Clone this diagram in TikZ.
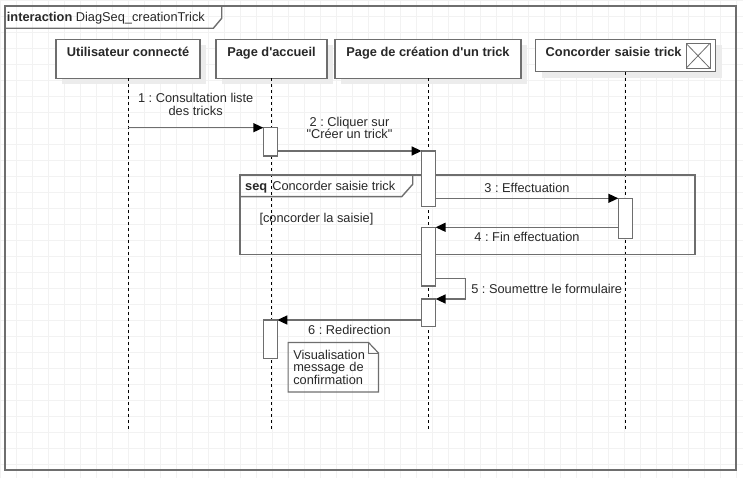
\documentclass[tikz,border=0pt]{standalone}
\usepackage{fontspec}
\setmainfont{Liberation Sans}
\usetikzlibrary{arrows.meta}
\definecolor{linegray}{RGB}{110,110,110}
\definecolor{textgray}{RGB}{40,40,40}
\definecolor{gridgray}{RGB}{242,242,242}
\definecolor{shadowgray}{RGB}{236,236,236}
\newcommand{\diagfont}{\fontsize{12.8}{12.5}\selectfont}
\frenchspacing

\begin{document}
\begin{tikzpicture}[x=1pt,y=-1pt,
  every node/.style={text=textgray, font=\diagfont},
  gridline/.style={draw=gridgray, line width=0.6pt},
  frame/.style={draw=linegray, line width=1.4pt},
  head/.style={draw=linegray, line width=1.3pt, fill=white, font=\diagfont\bfseries,
    minimum height=39pt, text height=10pt, text depth=15pt, inner sep=0pt, outer sep=0pt,
    preaction={draw=none, fill=shadowgray, transform canvas={shift={(6pt,-6pt)}}}},
  xbox/.style={draw=linegray, line width=1pt, minimum width=24pt, minimum height=25pt, inner sep=0pt,
    path picture={\draw[linegray, line width=0.8pt] (path picture bounding box.south west) -- (path picture bounding box.north east)
      (path picture bounding box.north west) -- (path picture bounding box.south east);}},
  lifeline/.style={draw=black, line width=0.9pt, dash pattern=on 3pt off 3pt},
  act/.style={draw=linegray, line width=1.3pt, fill=white, minimum width=14pt, inner sep=0pt, outer sep=0pt},
  msg/.style={draw=linegray, line width=1.4pt, -{Triangle[length=10pt,width=9pt,color=black]}},
  msglbl/.style={inner sep=0pt, align=center},
  note/.style={text width=80pt, align=left, inner xsep=5pt, inner ysep=0pt, minimum height=49pt}]
  \useasboundingbox (0,0) rectangle (743,478);
  % background grid
  \draw[gridline] (0,0) grid[step=16pt] (743,478);

  % interaction frame and its tab
  \draw[frame] (5,6) rectangle (736,470);
  \draw[frame] (5,28.3) -- (213.3,28.3) -- (221.7,18.3) -- (221.7,6);
  \node[anchor=base west, inner sep=0pt] (title) at (6.7,21.9) {\textbf{interaction} DiagSeq\_creationTrick};

  % lifeline heads
  \node[head, minimum width=144pt] (user) at (128,58.8) {Utilisateur connecté};
  \node[head, minimum width=111pt] (accueil) at (271.5,58.8) {Page d\textquotesingle accueil};
  \node[head, minimum width=186pt] (creation) at (428,58.8) {Page de création d\textquotesingle un trick};
  \node[head, minimum height=32.4pt, text width=160pt, align=left, inner xsep=10pt, text depth=8.4pt] (concord) at (625.7,55.5) {Concorder saisie trick};
  \node[xbox] (concordx) at (698,55.8) {};

  % lifelines
  \coordinate (userend) at (128,430);
  \coordinate (accueilend) at (271.5,430);
  \coordinate (creationend) at (428,430);
  \coordinate (concordend) at (625.7,430);
  \draw[lifeline] (user) -- (userend);
  \draw[lifeline] (accueil) -- (accueilend);
  \draw[lifeline] (creation) -- (creationend);
  \draw[lifeline] (concord) -- (concordend);

  % seq fragment
  \draw[frame] (240,175) rectangle (695,254.3);
  \draw[frame] (240,196.7) -- (401.7,196.7) -- (412.7,184.3) -- (412.7,175);
  \node[anchor=base west, inner sep=0pt] (seqtitle) at (245,190.3) {\textbf{seq}\hspace{5pt}Concorder saisie trick};
  \node[anchor=base west, inner sep=0pt] (guard) at (259.3,222.9) {[concorder la saisie]};

  % activations
  \node[act, minimum height=28.3pt] (act1) at (270.3,141.85) {};
  \node[act, minimum height=55.7pt] (act2) at (428.6,178.85) {};
  \node[act, minimum height=40pt] (act3) at (625.3,218.3) {};
  \node[act, minimum height=58.7pt] (act4) at (428.6,256.65) {};
  \node[act, minimum height=27.7pt] (act5) at (428.6,312.85) {};
  \node[act, minimum height=38.7pt] (act6) at (270.3,339.35) {};

  % messages
  \draw[msg] (user |- act1.north) -- (act1.north west)
    node[msglbl, midway, above=11.4pt] {1 : Consultation liste\\des tricks};
  \draw[msg] (act1.east |- act2.north) -- (act2.north west)
    node[msglbl, midway, above=11.4pt] {2 : Cliquer sur\\\textquotedbl Créer un trick\textquotedbl};
  \draw[msg] (act2.east |- act3.north) -- (act3.north west)
    node[msglbl, midway, above=5.4pt] {3 : Effectuation};
  \draw[msg] (act3.west |- act4.north) -- (act4.north east)
    node[msglbl, midway, below=4.7pt] {4 : Fin effectuation};
  \draw[msg] ([yshift=-51pt]act4.north east) -- ++(30,0)
    |- node[msglbl, pos=0.25, anchor=west, xshift=5pt] {5 : Soumettre le formulaire} (act5.north east);
  \draw[msg] (act5.west |- act6.north) -- (act6.north east)
    node[msglbl, midway, below=4.6pt] {6 : Redirection};

  % note
  \node[note] (confirm) at (333.3,367.2) {Visualisation\\message de\\confirmation};
  \draw[frame, line width=1.2pt] (confirm.south west) -- (confirm.north west) -- ([xshift=-10pt]confirm.north east)
    -- ([yshift=-10.5pt]confirm.north east) -- (confirm.south east) -- cycle;
  \draw[frame, line width=1pt] ([xshift=-10pt]confirm.north east) |- ([yshift=-10.5pt]confirm.north east);
\end{tikzpicture}
\end{document}
